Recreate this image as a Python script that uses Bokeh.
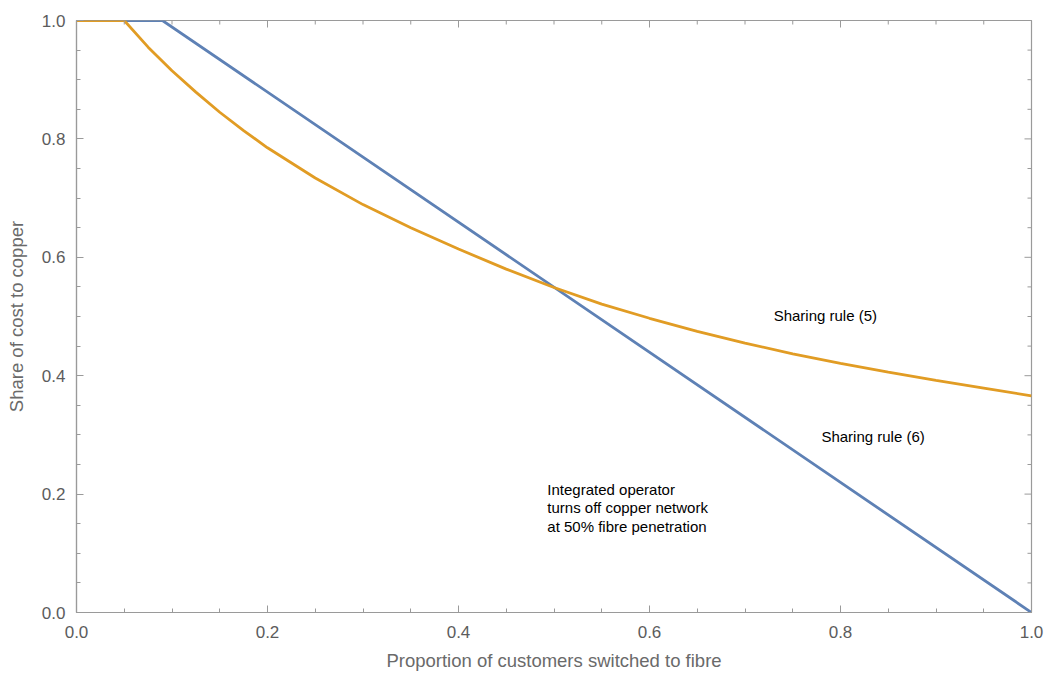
import math
from bokeh.plotting import figure
from bokeh.models import Range1d, FixedTicker, PrintfTickFormatter
from bokeh.core.properties import value
from bokeh.embed import file_html
from bokeh.resources import INLINE

# Data
x_rule5 = [0.0, 0.05, 0.075, 0.1, 0.125, 0.15, 0.175, 0.2, 0.25, 0.3, 0.35, 0.4, 0.45, 0.5,
           0.55, 0.6, 0.65, 0.7, 0.75, 0.8, 0.85, 0.9, 0.95, 1.0]
y_rule5 = [1.0, 1.0, 0.955, 0.915, 0.879, 0.845, 0.814, 0.785, 0.734, 0.689, 0.650, 0.614,
           0.580, 0.549, 0.521, 0.497, 0.475, 0.455, 0.437, 0.421, 0.406, 0.392, 0.379, 0.366]
x_rule6 = [0.0, 0.09, 1.0]
y_rule6 = [1.0, 1.0, 0.0]

labels = ["Sharing rule (5)", "Sharing rule (6)"]
label_x = [0.730, 0.780]
label_y = [0.501, 0.2965]
note_lines = ["Integrated operator", "turns off copper network", "at 50% fibre penetration"]
note_x = [0.493, 0.493, 0.493]
note_y = [0.207, 0.177, 0.146]

x_ticks = [0.0, 0.2, 0.4, 0.6, 0.8, 1.0]
y_ticks = [0.0, 0.2, 0.4, 0.6, 0.8, 1.0]
minor = [round(i * 0.05, 2) for i in range(21)]

BLUE = "#5E81B5"
ORANGE = "#E19C24"
FRAME = "#9a9a9a"
TICKTXT = "#5c5c5c"
FONT = "Liberation Sans"

p = figure(width=1044, height=673, output_backend="svg", toolbar_location=None,
           x_range=Range1d(0, 1), y_range=Range1d(0, 1),
           x_axis_label="Proportion of customers switched to fibre",
           y_axis_label="Share of cost to copper",
           min_border_left=76, min_border_top=20, min_border_right=13, min_border_bottom=40)
p.grid.visible = False
p.outline_line_color = FRAME
p.outline_line_width = 1.2
p.background_fill_color = "white"

p.line(x_rule6, y_rule6, line_color=BLUE, line_width=2.8)
p.line(x_rule5, y_rule5, line_color=ORANGE, line_width=2.8)

p.text(label_x, label_y, text=labels, text_font=value(FONT), text_font_size="15px",
       text_color="black", text_baseline="middle", text_align="left")
p.text(note_x, note_y, text=note_lines, text_font=value(FONT), text_font_size="15px",
       text_color="black", text_baseline="middle", text_align="left")

# mirrored ticks on the top and right frame edges
top_major = [t for t in x_ticks]
top_minor = [t for t in minor if t not in x_ticks]
right_major = [t for t in y_ticks]
right_minor = [t for t in minor if t not in y_ticks]
p.ray(x=top_major, y=[1.0] * len(top_major), angle=-math.pi / 2, length=7,
      length_units="screen", line_color=FRAME, line_width=1)
p.ray(x=top_minor, y=[1.0] * len(top_minor), angle=-math.pi / 2, length=4,
      length_units="screen", line_color=FRAME, line_width=1)
p.ray(x=[1.0] * len(right_major), y=right_major, angle=math.pi, length=7,
      length_units="screen", line_color=FRAME, line_width=1)
p.ray(x=[1.0] * len(right_minor), y=right_minor, angle=math.pi, length=4,
      length_units="screen", line_color=FRAME, line_width=1)


def style(ax, ticks):
    ax.ticker = FixedTicker(ticks=ticks, minor_ticks=minor)
    ax.formatter = PrintfTickFormatter(format="%.1f")
    ax.axis_line_color = FRAME
    ax.axis_line_width = 1.2
    ax.major_tick_line_color = FRAME
    ax.minor_tick_line_color = FRAME
    ax.major_tick_in = 7
    ax.major_tick_out = 0
    ax.minor_tick_in = 4
    ax.minor_tick_out = 0
    ax.major_label_text_font = FONT
    ax.major_label_text_font_size = "17px"
    ax.major_label_text_color = TICKTXT
    ax.axis_label_text_font = FONT
    ax.axis_label_text_font_size = "18.5px"
    ax.axis_label_text_font_style = "normal"
    ax.axis_label_text_color = "#6a6a6a"


for ax in p.xaxis:
    style(ax, x_ticks)
    ax.major_label_standoff = 13
    ax.axis_label_standoff = 9
for ax in p.yaxis:
    style(ax, y_ticks)
    ax.major_label_standoff = 11
    ax.axis_label_standoff = 12

open("out.html", "w").write(file_html(p, INLINE))
